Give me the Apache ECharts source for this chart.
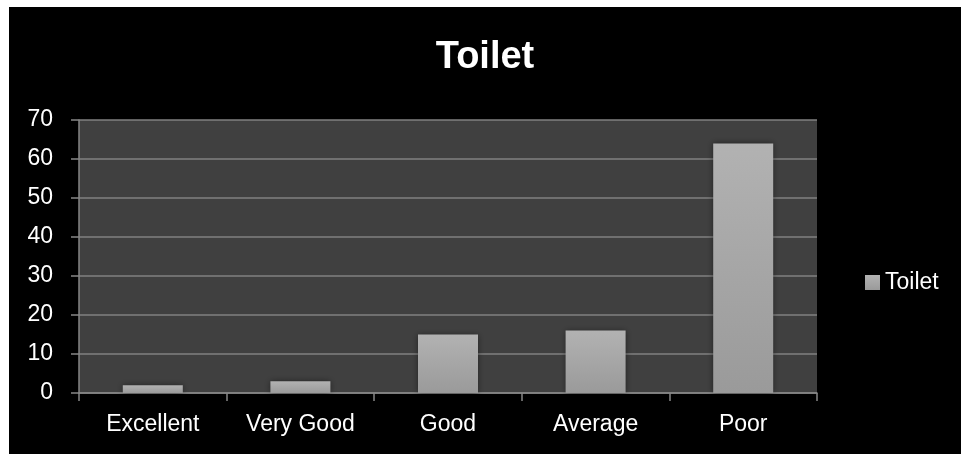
<!DOCTYPE html>
<html>
<head>
<meta charset="utf-8">
<script src="https://cdn.jsdelivr.net/npm/echarts@6/dist/echarts.min.js"></script>
<style>
html,body{margin:0;padding:0;background:#ffffff;width:100%;height:100%;overflow:hidden;}
#wrap{position:absolute;left:9px;top:7px;right:0;bottom:0;background:#000000;}
#chart{position:absolute;left:0;top:0;width:952px;height:447px;}
</style>
</head>
<body>
<div id="wrap"><div id="chart"></div></div>
<script>
var categories = ["Excellent", "Very Good", "Good", "Average", "Poor"];
var toiletValues = [2, 3, 15, 16, 64];
var seriesName = "Toilet";
var titleText = "Toilet";

var chart = echarts.init(document.getElementById('chart'));
var font = '"Liberation Sans", Arial, sans-serif';
chart.setOption({
  backgroundColor: '#000000',
  animation: false,
  title: {
    text: titleText,
    left: 'center',
    top: 27,
    textStyle: {color: '#ffffff', fontSize: 38, fontWeight: 'bold', fontFamily: font}
  },
  legend: {
    data: [seriesName],
    left: 851,
    top: 259,
    itemWidth: 15,
    itemHeight: 15,
    itemGap: 8,
    icon: 'rect',
    textStyle: {color: '#ffffff', fontSize: 23, fontFamily: font}
  },
  grid: {
    left: 70, top: 113, width: 738, height: 273,
    show: true, backgroundColor: '#404040', borderWidth: 0
  },
  xAxis: {
    type: 'category',
    data: categories,
    axisLine: {lineStyle: {color: '#868686', width: 1.5}},
    axisTick: {show: true, length: 8, lineStyle: {color: '#868686', width: 1.5}},
    axisLabel: {color: '#ffffff', fontSize: 23, fontFamily: font, margin: 20}
  },
  yAxis: {
    type: 'value',
    min: 0, max: 70, interval: 10,
    axisLine: {show: true, lineStyle: {color: '#868686', width: 1.5}},
    axisTick: {show: true, length: 8, lineStyle: {color: '#868686', width: 1.5}},
    splitLine: {lineStyle: {color: '#808080', width: 1.5}},
    axisLabel: {color: '#ffffff', fontSize: 23, fontFamily: font, margin: 26}
  },
  series: [{
    name: seriesName,
    type: 'bar',
    data: toiletValues,
    barWidth: 60,
    itemStyle: {
      color: new echarts.graphic.LinearGradient(0, 0, 0, 1, [
        {offset: 0, color: '#b2b2b2'},
        {offset: 1, color: '#9a9a9a'}
      ]),
      shadowColor: 'rgba(0,0,0,0.45)',
      shadowBlur: 6
    }
  }]
});
</script>
</body>
</html>
